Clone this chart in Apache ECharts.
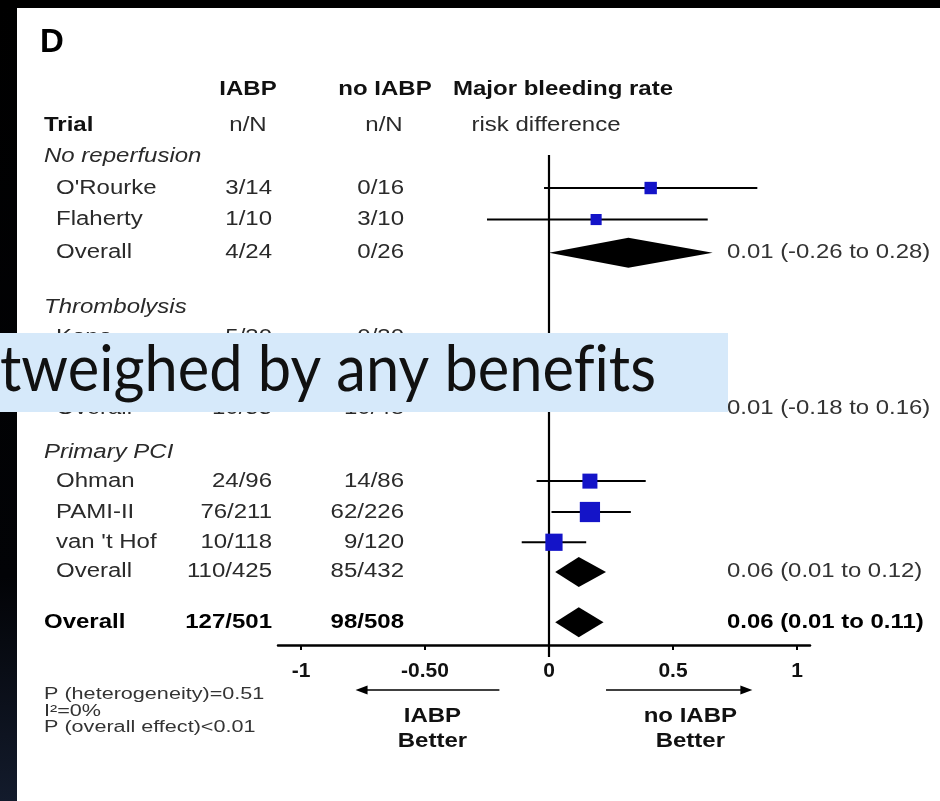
<!DOCTYPE html>
<html><head><meta charset="utf-8">
<script src="https://cdn.jsdelivr.net/npm/echarts@6/dist/echarts.min.js"></script>
<style>html,body{margin:0;padding:0;background:#fff}#c{width:940px;height:801px}</style>
</head><body><div id="c"></div>
<script>
// ---------- data ----------
const rowKind  = ['group','trial','trial','sub','group','trial','sub','group','trial','trial','trial','sub','total'];
const rowLabel = ['No reperfusion',"O'Rourke",'Flaherty','Overall','Thrombolysis','Kono','Overall','Primary PCI','Ohman','PAMI-II',"van 't Hof",'Overall','Overall'];
const rowPos   = [1, 2, 3, 4.05, 5.8, 6.75, 9, 10.4, 11.3, 12.28, 13.24, 14.18, 15.78];
const iabpN    = ['', '3/14','1/10','4/24','', '5/30','10/55','', '24/96','76/211','10/118','110/425','127/501'];
const noIabpN  = ['', '0/16','3/10','0/26','', '0/30','10/48','', '14/86','62/226','9/120','85/432','98/508'];
const est      = [null, 0.41, 0.19, 0.32, null, -0.06, null, null, 0.165, 0.165, 0.02, 0.12, 0.12];
const lo       = [null, -0.02, -0.25, 0.00, null, -0.30, null, null, -0.05, 0.01, -0.11, 0.025, 0.025];
const hi       = [null, 0.84, 0.64, 0.66, null, 0.20, null, null, 0.39, 0.33, 0.15, 0.23, 0.22];
const weight   = [0, 15, 12, 0, 0, 6, 0, 0, 22, 40, 29, 0, 0];
const ciText   = ['', '', '', '0.01 (-0.26 to 0.28)', '', '', '0.01 (-0.18 to 0.16)', '', '', '', '', '0.06 (0.01 to 0.12)', '0.06 (0.01 to 0.11)'];
const tickValues = [-1, -0.5, 0, 0.5, 1];
const tickLabels = ['-1', '-0.50', '0', '0.5', '1'];
const headRow1 = ['IABP', 'no IABP', 'Major bleeding rate'];
const headRow2 = ['Trial', 'n/N', 'n/N', 'risk difference'];
const statsText = ['P (heterogeneity)=0.51', 'I\u00b2=0%', 'P (overall effect)<0.01'];
const favourText = [['IABP', 'Better'], ['no IABP', 'Better']];
const caption = 'tweighed by any benef\u200Cits';

// ---------- styles ----------
const FONT = '"Liberation Sans", Arial, sans-serif';
const SX = 1.2;
const FS = 20;
function txt(x, y, s, o) {
  o = o || {};
  return {
    type: 'text', x: x, y: y, scaleX: o.sx || SX, z2: 10,
    style: {
      text: s, fill: o.color || '#2a2a2a', fontSize: o.size || FS,
      fontFamily: FONT, fontWeight: o.weight || 'normal', fontStyle: o.italic ? 'italic' : 'normal',
      align: o.align || 'left', verticalAlign: 'middle'
    }
  };
}

const capCtx = document.createElement('canvas').getContext('2d');
capCtx.font = '63px Lato';
const capScale = 656 / capCtx.measureText(caption).width;

const chart = echarts.init(document.getElementById('c'));

const rowsSeries = {
  type: 'custom',
  data: rowPos.map((p, i) => [est[i] == null ? 0 : est[i], p]),
  encode: { x: 0, y: 1 },
  renderItem: function (params, api) {
    const i = params.dataIndex;
    const kind = rowKind[i];
    const y = api.coord([0, rowPos[i]])[1];
    const bold = kind === 'total';
    const col = bold ? '#000' : '#2a2a2a';
    const children = [];
    const lx = (kind === 'group' || kind === 'total') ? 44 : 56;
    children.push(txt(lx, y, rowLabel[i], { italic: kind === 'group', weight: bold ? 'bold' : 'normal', color: col }));
    if (iabpN[i]) children.push(txt(272, y, iabpN[i], { align: 'right', weight: bold ? 'bold' : 'normal', color: col }));
    if (noIabpN[i]) children.push(txt(404, y, noIabpN[i], { align: 'right', weight: bold ? 'bold' : 'normal', color: col }));
    if (ciText[i]) children.push(txt(727, y, ciText[i], { weight: bold ? 'bold' : 'normal', color: bold ? '#000' : '#333', sx: 1.195 }));
    if (est[i] != null) {
      const pL = api.coord([lo[i], rowPos[i]]);
      const pH = api.coord([hi[i], rowPos[i]]);
      const pE = api.coord([est[i], rowPos[i]]);
      if (kind === 'trial') {
        children.push({ type: 'line', z2: 5, shape: { x1: pL[0], y1: y, x2: pH[0], y2: y }, style: { stroke: '#000', lineWidth: 2 } });
        const s = 3.2 * Math.sqrt(weight[i]);
        children.push({ type: 'rect', z2: 6, shape: { x: pE[0] - s / 2, y: y - s / 2, width: s, height: s }, style: { fill: '#1414c8' } });
      } else {
        const h = 15;
        children.push({ type: 'polygon', z2: 6, shape: { points: [[pL[0], y], [pE[0], y - h], [pH[0], y], [pE[0], y + h]] }, style: { fill: '#000' } });
      }
    }
    return { type: 'group', children: children };
  }
};

const decoSeries = {
  type: 'custom',
  data: [[0, 0.95]],
  renderItem: function (params, api) {
    const top = api.coord([0, api.value(1)]);
    const axisY = api.coord([0, 16.5])[1];
    const ch = [];
    ch.push({ type: 'line', shape: { x1: top[0], y1: top[1], x2: top[0], y2: axisY + 12 }, style: { stroke: '#000', lineWidth: 2.2 } });
    const ay = axisY + 45;
    const l1 = api.coord([-0.2, 0])[0], l2 = api.coord([-0.78, 0])[0];
    const r1 = api.coord([0.23, 0])[0], r2 = api.coord([0.82, 0])[0];
    ch.push({ type: 'line', shape: { x1: l1, y1: ay, x2: l2 + 8, y2: ay }, style: { stroke: '#000', lineWidth: 1.6 } });
    ch.push({ type: 'polygon', shape: { points: [[l2, ay], [l2 + 12, ay - 4.5], [l2 + 12, ay + 4.5]] }, style: { fill: '#000' } });
    ch.push({ type: 'line', shape: { x1: r1, y1: ay, x2: r2 - 8, y2: ay }, style: { stroke: '#000', lineWidth: 1.6 } });
    ch.push({ type: 'polygon', shape: { points: [[r2, ay], [r2 - 12, ay - 4.5], [r2 - 12, ay + 4.5]] }, style: { fill: '#000' } });
    const fx = [api.coord([-0.47, 0])[0], api.coord([0.57, 0])[0]];
    favourText.forEach((pair, k) => {
      ch.push(txt(fx[k], axisY + 71, pair[0], { align: 'center', weight: 'bold', color: '#111' }));
      ch.push(txt(fx[k], axisY + 96, pair[1], { align: 'center', weight: 'bold', color: '#111' }));
    });
    return { type: 'group', children: ch };
  }
};

function gtext(x, y, s, o) {
  const t = txt(x, y, s, o);
  t.z = 50;
  return t;
}

const option = {
  animation: false,
  backgroundColor: '#ffffff',
  grid: { left: 278, right: 130, top: 125, bottom: 156 },
  xAxis: {
    type: 'value', min: -1.0927, max: 1.0524,
    axisLine: { show: true, onZero: false, lineStyle: { color: '#000', width: 2.5 } },
    axisTick: { show: true, customValues: tickValues, length: 5, lineStyle: { color: '#000', width: 2 } },
    axisLabel: {
      customValues: tickValues, margin: 16, color: '#111', fontWeight: 'bold', fontSize: 21, fontFamily: FONT,
      formatter: function (v) { const k = tickValues.indexOf(v); return k >= 0 ? tickLabels[k] : String(v); }
    },
    splitLine: { show: false }
  },
  yAxis: { type: 'value', inverse: true, min: 0, max: 16.5, show: false },
  graphic: [
    { type: 'rect', z: 40, shape: { x: 0, y: 0, width: 940, height: 8 }, style: { fill: '#000' } },
    { type: 'rect', z: 40, shape: { x: 0, y: 0, width: 17, height: 801 },
      style: { fill: new echarts.graphic.LinearGradient(0, 0, 0, 1, [{ offset: 0, color: '#000' }, { offset: 0.72, color: '#020306' }, { offset: 1, color: '#131b2c' }]) } },
    gtext(40, 43, 'D', { size: 33, weight: 'bold', sx: 1.0, color: '#000' }),
    gtext(248, 89, headRow1[0], { align: 'center', weight: 'bold', color: '#111' }),
    gtext(385, 89, headRow1[1], { align: 'center', weight: 'bold', color: '#111' }),
    gtext(563, 89, headRow1[2], { align: 'center', weight: 'bold', color: '#111' }),
    gtext(44, 125, headRow2[0], { weight: 'bold', color: '#111' }),
    gtext(248, 125, headRow2[1], { align: 'center' }),
    gtext(384, 125, headRow2[2], { align: 'center' }),
    gtext(546, 125, headRow2[3], { align: 'center' }),
    gtext(44, 695, statsText[0], { size: 16, sx: 1.35, color: '#333' }),
    gtext(44, 712, statsText[1], { size: 16, sx: 1.35, color: '#333' }),
    gtext(44, 728, statsText[2], { size: 16, sx: 1.35, color: '#333' }),
    { type: 'rect', z: 100, shape: { x: 0, y: 333, width: 728, height: 79 }, style: { fill: '#d6e9fa' } },
    { type: 'text', z: 101, x: 0, y: 371, scaleX: capScale,
      style: { text: caption, fill: '#111', fontSize: 63, fontFamily: 'Lato', align: 'left', verticalAlign: 'middle' } }
  ],
  series: [decoSeries, rowsSeries]
};
chart.setOption(option);
</script></body></html>
